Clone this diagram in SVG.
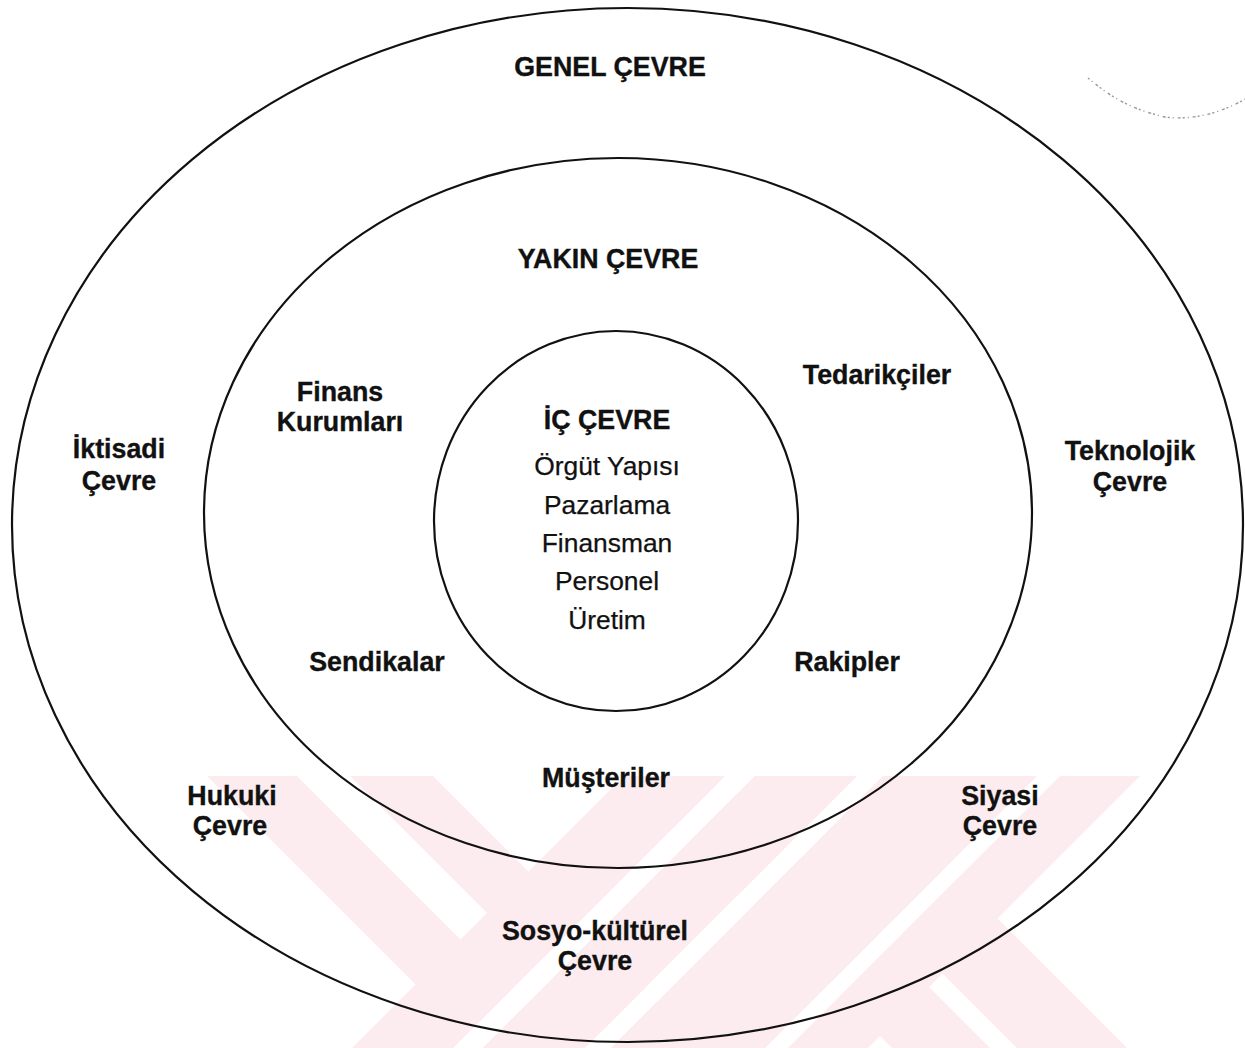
<svg xmlns="http://www.w3.org/2000/svg" width="1245" height="1048" viewBox="0 0 1245 1048">
  <style>
    .ring { fill: none; stroke: #111; stroke-width: 2.2; }
    .b { font-family: "Liberation Sans", Arial, sans-serif; font-weight: bold; font-size: 26.8px; fill: #111; stroke: #111; stroke-width: 0.35; text-anchor: middle; }
    .r { font-family: "Liberation Sans", Arial, sans-serif; font-size: 26.4px; fill: #111; stroke: #111; stroke-width: 0.25; text-anchor: middle; }
    .wm { fill: #fdecef; }
    .gap { fill: #fff; }
    .speck { fill: none; stroke: #444; stroke-width: 1.4; stroke-dasharray: 2 3 1 4 3 2; opacity: 0.55; }
  </style>
  <defs>
    <clipPath id="wmclip">
      <rect x="207" y="776" width="933" height="272"/>
    </clipPath>
  </defs>

  <rect width="1245" height="1048" fill="#fff"/>

  <!-- pale interlaced ribbons behind the lower part -->
  <g id="watermark" clip-path="url(#wmclip)">
    <!-- ribbon running down-right, left side (two strands) -->
    <polygon class="wm" points="207,776 297,776 569,1048 479,1048"/>
    <polygon class="wm" points="350,776 433,776 705,1048 622,1048"/>
    <!-- ribbon running down-right, middle (two strands) -->
    <polygon class="wm" points="620,776 718,776 990,1048 892,1048"/>
    <polygon class="wm" points="745,776 855,776 1127,1048 1017,1048"/>
    <!-- ribbon running down-left, on top: white seams then strands -->
    <polygon class="gap" points="725,776 755,776 483,1048 453,1048"/>
    <polygon class="gap" points="857,776 883,776 611,1048 585,1048"/>
    <polygon class="gap" points="1037,776 1060,776 788,1048 765,1048"/>
    <polygon class="wm" points="624,776 725,776 453,1048 352,1048"/>
    <polygon class="wm" points="755,776 857,776 585,1048 483,1048"/>
    <polygon class="wm" points="883,776 1037,776 765,1048 611,1048"/>
    <polygon class="wm" points="1060,776 1140,776 868,1048 788,1048"/>
  </g>

  <!-- faint speckled arc in the top-right corner -->
  <path class="speck" d="M1088,78 C1105,92 1125,108 1165,117 C1195,121 1225,111 1245,99"/>

  <!-- outer ring: general environment -->
  <g id="genel-cevre">
    <ellipse class="ring" cx="627.5" cy="525" rx="615.5" ry="517"/>
    <text class="b" x="610" y="76">GENEL ÇEVRE</text>
  </g>

  <!-- middle ring: near environment -->
  <g id="yakin-cevre">
    <ellipse class="ring" cx="618" cy="513" rx="414" ry="355"/>
    <text class="b" x="608" y="268">YAKIN ÇEVRE</text>
  </g>

  <!-- inner circle: internal environment -->
  <g id="ic-cevre">
    <ellipse class="ring" cx="616" cy="521" rx="182" ry="190"/>
    <text class="b" x="607" y="429">İÇ ÇEVRE</text>
    <text class="r" x="607" y="475">Örgüt Yapısı</text>
    <text class="r" x="607" y="513.5">Pazarlama</text>
    <text class="r" x="607" y="552">Finansman</text>
    <text class="r" x="607" y="590">Personel</text>
    <text class="r" x="607" y="628.5">Üretim</text>
  </g>

  <!-- near-environment actors -->
  <g id="finans-kurumlari">
    <text class="b" x="340" y="401">Finans</text>
    <text class="b" x="340" y="431">Kurumları</text>
  </g>
  <g id="tedarikciler">
    <text class="b" x="877" y="384">Tedarikçiler</text>
  </g>
  <g id="sendikalar">
    <text class="b" x="377" y="671">Sendikalar</text>
  </g>
  <g id="rakipler">
    <text class="b" x="847" y="671">Rakipler</text>
  </g>
  <g id="musteriler">
    <text class="b" x="606" y="787">Müşteriler</text>
  </g>

  <!-- general-environment factors -->
  <g id="iktisadi-cevre">
    <text class="b" x="119" y="458">İktisadi</text>
    <text class="b" x="119" y="490">Çevre</text>
  </g>
  <g id="teknolojik-cevre">
    <text class="b" x="1130" y="460">Teknolojik</text>
    <text class="b" x="1130" y="491">Çevre</text>
  </g>
  <g id="hukuki-cevre">
    <text class="b" x="232" y="805">Hukuki</text>
    <text class="b" x="230" y="835">Çevre</text>
  </g>
  <g id="siyasi-cevre">
    <text class="b" x="1000" y="805">Siyasi</text>
    <text class="b" x="1000" y="835">Çevre</text>
  </g>
  <g id="sosyo-kulturel-cevre">
    <text class="b" x="595" y="940">Sosyo-kültürel</text>
    <text class="b" x="595" y="970">Çevre</text>
  </g>

  <g id="connectors"/>
</svg>
